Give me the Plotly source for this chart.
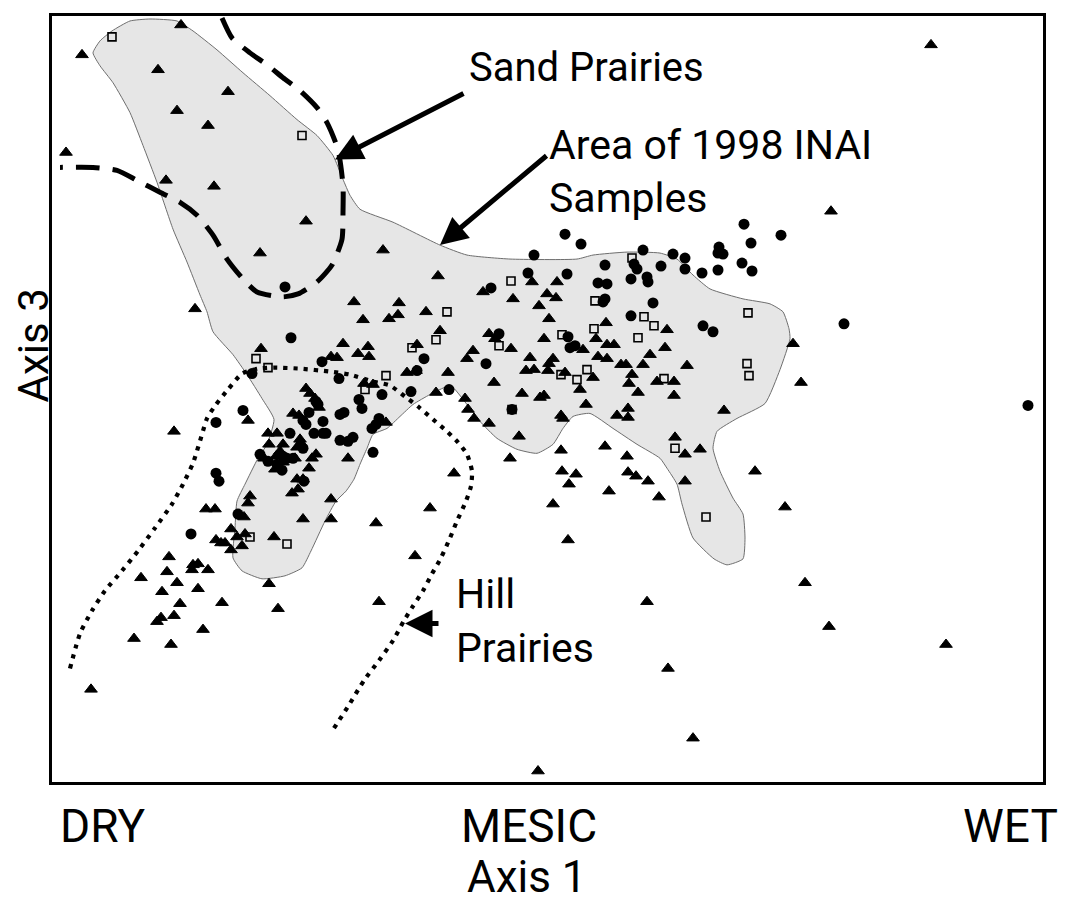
import plotly.graph_objects as go

# ---- Data (ordination scores; arbitrary units) ----
tri_x = [181, 82, 158, 228, 177, 208, 66, 166, 214, 306, 260, 354, 195, 383, 438, 931, 831,
         532, 557, 513, 483, 547, 556, 539, 549, 399, 398, 389, 426, 363, 440, 417, 368, 473,
         489, 495, 511, 544, 596, 606, 607, 614, 583, 665, 667, 793, 343, 331, 337, 358, 369,
         261, 467, 407, 416, 448, 364, 373, 436, 465, 468, 474, 386, 306, 310, 315, 319,
         530, 553, 549, 548, 526, 534, 565, 598, 607, 650, 621, 626, 643, 687, 593, 632, 629,
         657, 674, 638, 674, 580, 494, 522, 540, 544, 586, 561, 563, 617, 628, 628, 724, 801,
         489, 519, 510, 561, 605, 627, 675, 685, 700, 562, 576, 569, 628, 636, 648, 609, 659,
         685, 553, 568, 755, 785, 805, 829, 946, 647, 668, 693, 538, 454, 331, 303, 331, 376,
         430, 415, 379, 174, 248, 206, 215, 250, 248, 244, 231, 216, 221, 225, 237, 245, 242,
         231, 274, 169, 167, 193, 198, 192, 208, 141, 177, 198, 162, 180, 222, 269, 278, 161,
         157, 174, 203, 134, 171, 91,
         293, 299, 268, 277, 300, 269, 283, 280, 297, 301, 312, 316, 276, 283, 295, 264, 309,
         297, 303, 275, 292, 298, 348]
tri_y = [778, 748, 733, 711, 692, 677, 650, 622, 616, 581, 549, 500, 493, 552, 526, 758, 591,
         520, 520, 503, 510, 508, 504, 496, 483, 499, 487, 483, 490, 482, 471, 457, 455, 451,
         468, 463, 453, 463, 463, 479, 457, 457, 452, 454, 472, 458, 458, 445, 444, 448, 445,
         453, 443, 429, 431, 429, 418, 417, 409, 403, 392, 383, 379, 413, 408, 403, 394,
         444, 443, 438, 431, 431, 432, 429, 445, 443, 447, 437, 437, 437, 436, 424, 427, 418,
         420, 420, 409, 406, 412, 419, 408, 404, 406, 397, 386, 383, 386, 393, 384, 391, 419,
         378, 365, 343, 351, 355, 345, 364, 347, 352, 330, 327, 317, 329, 325, 320, 310, 304,
         320, 297, 261, 330, 294, 218, 174, 156, 199, 132, 62, 29, 328, 302, 282, 282, 278,
         293, 245, 199, 370, 381, 292, 292, 305, 298, 284, 272, 261, 258, 258, 264, 267, 255,
         251, 264, 244, 229, 236, 237, 231, 231, 223, 218, 212, 209, 197, 198, 217, 192, 183,
         179, 185, 171, 162, 156, 111,
         388, 386, 368, 368, 362, 357, 357, 350, 354, 358, 343, 347, 345, 339, 343, 343, 333,
         322, 322, 332, 308, 312, 343]

circ_x = [285, 291, 565, 581, 534, 643, 744, 781, 751, 719, 723, 718, 673, 685, 685, 661, 702,
          718, 742, 752, 634, 637, 605, 528, 567, 491, 598, 607, 631, 647, 648, 605, 603, 653,
          631, 703, 713, 499, 568, 570, 575, 486, 844, 1028, 322, 339, 424, 417, 252, 382, 411,
          449, 359, 362, 340, 344, 376, 379, 372, 316, 318, 243, 216, 303, 306, 309, 323, 314,
          323, 290, 340, 348, 353, 373, 260, 282, 304, 216, 219, 238, 191, 283, 287, 293, 277,
          268, 303, 512, 326]
circ_y = [515, 464, 568, 558, 547, 552, 578, 567, 559, 555, 548, 549, 548, 544, 533, 536, 529,
          532, 539, 531, 538, 533, 537, 529, 528, 514, 519, 518, 523, 525, 520, 503, 500, 499,
          486, 476, 470, 468, 465, 454, 456, 438, 478, 396, 440, 423, 443, 431, 428, 407, 410,
          412, 402, 393, 387, 389, 377, 383, 373, 400, 397, 391, 379, 381, 377, 389, 380, 368,
          368, 368, 361, 360, 364, 349, 347, 331, 320, 328, 320, 287, 267, 345, 343, 343, 337,
          340, 353, 392, 368]

sq_x = [112, 302, 632, 511, 595, 748, 447, 644, 654, 594, 436, 562, 638, 412, 499, 256, 268,
        386, 365, 747, 749, 587, 664, 561, 577, 512, 675, 706, 250, 287]
sq_y = [766, 667, 544, 521, 501, 489, 490, 485, 476, 473, 462, 467, 464, 454, 456, 443, 434,
        426, 412, 438, 426, 432, 423, 427, 422, 392, 353, 284, 264, 257]

# outline of the area covered by the 1998 INAI samples
area_x = [93, 100, 112, 130, 150, 177, 193, 217, 243, 270, 297, 317, 333, 343, 350, 360, 393,
          440, 467, 510, 577, 593, 627, 660, 677, 693, 710, 743, 770, 783, 789, 790, 780, 765,
          737, 717, 713, 720, 733, 743, 745, 743, 727, 714, 693, 682, 677, 667, 660, 637, 613,
          590, 573, 563, 553, 537, 517, 497, 480, 470, 453, 447, 430, 413, 400, 387, 373, 367,
          360, 354, 346, 336, 325, 311, 302, 285, 262, 242, 233, 235, 237, 245, 258, 267, 274,
          262, 247, 233, 213, 207, 200, 187, 173, 157, 143, 130, 113, 100, 93]
area_y = [750, 762, 772, 782, 784, 782, 772, 753, 730, 707, 683, 667, 647, 623, 607, 593, 580,
          557, 547, 543, 543, 547, 550, 549, 543, 527, 513, 503, 498, 490, 473, 463, 432, 398,
          383, 370, 353, 330, 303, 287, 263, 242, 236, 242, 263, 297, 317, 333, 343, 357, 373,
          388, 385, 373, 357, 348, 352, 363, 380, 393, 414, 415, 407, 397, 385, 373, 367, 353,
          337, 322, 310, 300, 280, 250, 233, 225, 222, 230, 243, 273, 300, 317, 343, 357, 382,
          403, 427, 447, 470, 490, 507, 540, 573, 620, 657, 690, 720, 737, 750]

# sand prairie boundary (dashed)
sand_x = [222, 232, 250, 267, 283, 300, 317, 327, 338, 343, 343, 342, 332, 317, 298, 283, 257,
          243, 227, 213, 197, 180, 160, 137, 117, 93, 60]
sand_y = [785, 765, 750, 738, 725, 712, 695, 680, 653, 617, 590, 563, 537, 520, 508, 505, 510,
          523, 543, 567, 587, 600, 610, 622, 632, 635, 635]

# hill prairie boundary (dotted)
hill_x = [70, 80, 92, 105, 122, 138, 155, 172, 183, 193, 202, 207, 216, 228, 242, 258, 275, 300,
          330, 350, 373, 390, 405, 418, 433, 447, 458, 467, 472, 471, 466, 457, 450, 441, 432,
          423, 412, 404, 393, 379, 364, 350, 334]
hill_y = [132, 167, 190, 210, 230, 250, 273, 297, 317, 338, 367, 383, 397, 412, 428, 433, 434,
          433, 430, 427, 420, 416, 405, 395, 382, 370, 359, 347, 330, 315, 300, 280, 263, 243,
          227, 210, 193, 180, 160, 140, 120, 97, 72]

gradient_labels = ["DRY", "MESIC", "WET"]
gradient_pos = [102, 529, 1010]

X_RANGE = [52, 1043]
Y_RANGE = [18, 787]

FONT = "Roboto, Arial, sans-serif"

fig = go.Figure()

fig.add_trace(go.Scatter(x=area_x, y=area_y, mode="lines", fill="toself",
                         fillcolor="#e6e6e6", line=dict(color="#6e6e6e", width=1, shape="spline", smoothing=0.5),
                         hoverinfo="skip", showlegend=False))
fig.add_trace(go.Scatter(x=sand_x, y=sand_y, mode="lines",
                         line=dict(color="black", width=5, dash="24px,13px", shape="spline", smoothing=0.6),
                         hoverinfo="skip", showlegend=False))
fig.add_trace(go.Scatter(x=hill_x, y=hill_y, mode="lines",
                         line=dict(color="black", width=4.2, dash="4.2px,6px", shape="spline", smoothing=0.6),
                         hoverinfo="skip", showlegend=False))
fig.add_trace(go.Scatter(x=tri_x, y=tri_y, mode="markers",
                         marker=dict(symbol="triangle-up", size=11, color="black",
                                     line=dict(color="black", width=1)),
                         hoverinfo="skip", showlegend=False, cliponaxis=False))
fig.add_trace(go.Scatter(x=circ_x, y=circ_y, mode="markers",
                         marker=dict(symbol="circle", size=11, color="black"),
                         hoverinfo="skip", showlegend=False, cliponaxis=False))
fig.add_trace(go.Scatter(x=sq_x, y=sq_y, mode="markers",
                         marker=dict(symbol="square-open", size=8, color="black",
                                     line=dict(color="black", width=1.6)),
                         hoverinfo="skip", showlegend=False, cliponaxis=False))

ann = []
# text labels inside the plot
ann.append(dict(x=467, y=735, xref="x", yref="y", text="Sand Prairies", showarrow=False,
                xanchor="left", yanchor="middle", font=dict(size=40, family=FONT, color="black")))
ann.append(dict(x=547, y=631, xref="x", yref="y", text="Area of 1998 INAI<br>Samples",
                showarrow=False, align="left",
                xanchor="left", yanchor="middle", font=dict(size=41, family=FONT, color="black")))
ann.append(dict(x=454, y=207, xref="x", yref="y", text="Hill", showarrow=False,
                xanchor="left", yanchor="middle", font=dict(size=41, family=FONT, color="black")))
ann.append(dict(x=454, y=153, xref="x", yref="y", text="Prairies", showarrow=False,
                xanchor="left", yanchor="middle", font=dict(size=41, family=FONT, color="black")))
# arrows
for tip, tail in [((335, 643), (465, 710)), ((440, 557), (548, 648)), ((405, 177), (440, 177))]:
    ann.append(dict(x=tip[0], y=tip[1], ax=tail[0], ay=tail[1], xref="x", yref="y",
                    axref="x", ayref="y", text="", showarrow=True, arrowhead=2,
                    arrowsize=1.1, arrowwidth=5, arrowcolor="black"))
# gradient labels and axis titles
for lab, pos in zip(gradient_labels, gradient_pos):
    ann.append(dict(x=pos, y=-0.058, xref="x", yref="paper", text=lab, showarrow=False,
                    xanchor="center", yanchor="middle", font=dict(size=46, family=FONT, color="black")))
ann.append(dict(x=527, y=-0.124, xref="x", yref="paper", text="Axis 1", showarrow=False,
                xanchor="center", yanchor="middle", font=dict(size=44, family=FONT, color="black")))
ann.append(dict(x=-0.0185, y=456, xref="paper", yref="y", text="Axis 3", showarrow=False,
                textangle=-90, xanchor="center", yanchor="middle",
                font=dict(size=42, family=FONT, color="black")))

# the page adds an 8px body margin, so the figure is sized to sit in the window
fig.update_layout(
    width=1060, height=900,
    margin=dict(l=44, r=25, t=5, b=126),
    paper_bgcolor="white", plot_bgcolor="white",
    showlegend=False,
    annotations=ann,
    xaxis=dict(range=X_RANGE, showgrid=False, zeroline=False, showticklabels=False, ticks="",
               showline=True, linecolor="black", linewidth=3, mirror=True),
    yaxis=dict(range=Y_RANGE, showgrid=False, zeroline=False, showticklabels=False, ticks="",
               showline=True, linecolor="black", linewidth=3, mirror=True),
)

fig.write_html("out.html")
